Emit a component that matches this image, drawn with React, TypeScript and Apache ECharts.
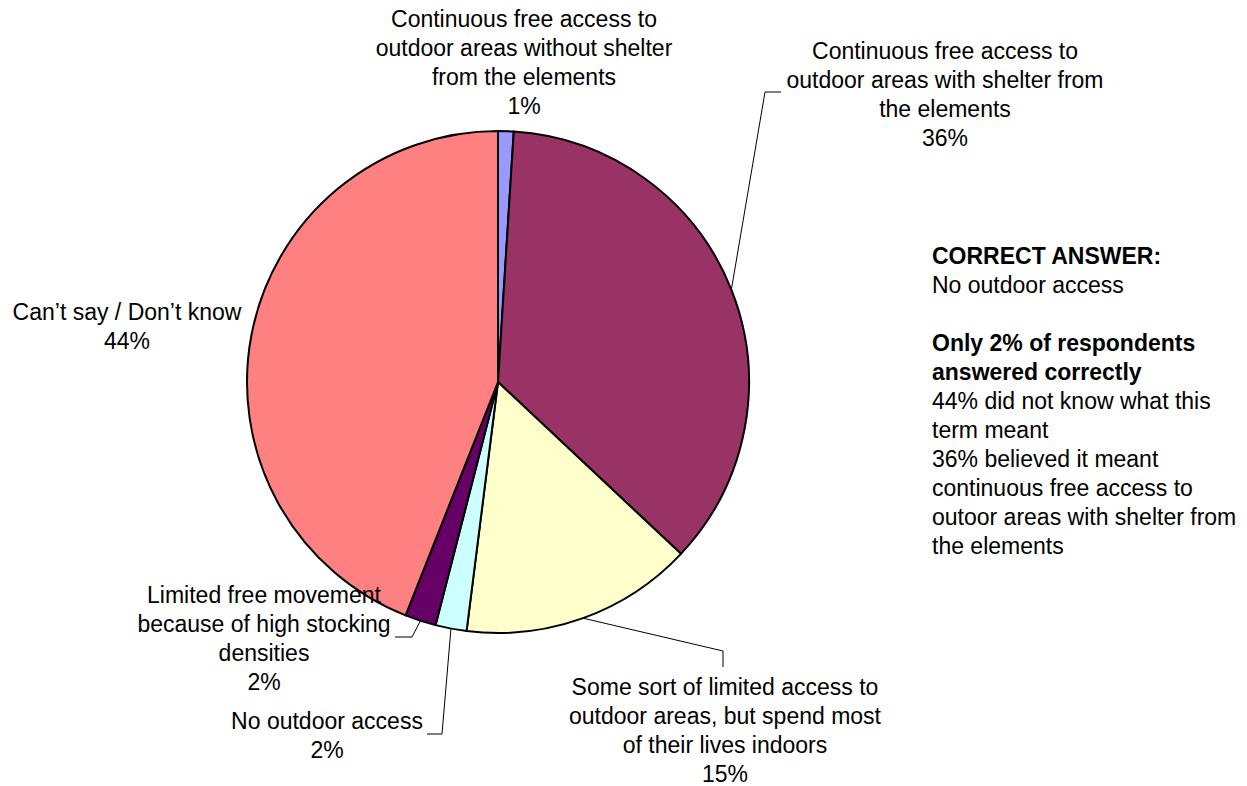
import React, { useEffect, useRef } from "react";
import * as echarts from "echarts";

const categories: string[] = [
  "Continuous free access to\noutdoor areas without shelter\nfrom the elements",
  "Continuous free access to\noutdoor areas with shelter from\nthe elements",
  "Some sort of limited access to\noutdoor areas, but spend most\nof their lives indoors",
  "No outdoor access",
  "Limited free movement\nbecause of high stocking\ndensities",
  "Can’t say / Don’t know",
];
const values: number[] = [1, 36, 15, 2, 2, 44];
const colors: string[] = ["#9999FF", "#993366", "#FFFFCC", "#CCFFFF", "#660066", "#FF8080"];
const showLeader: boolean[] = [false, true, true, true, true, false];

const noteBold1 = "CORRECT ANSWER:";
const noteText1 = "No outdoor access";
const noteBold2 = "Only 2% of respondents\nanswered correctly";
const noteText2 =
  "44% did not know what this\nterm meant\n36% believed it meant\ncontinuous free access to\noutoor areas with shelter from\nthe elements";

// label layout (positions only)
const labelPos: { x: number; y: number; line: number[][] | null }[] = [
  { x: 524, y: 4, line: null },
  { x: 945, y: 36, line: [[765, 92], [781, 92]] },
  { x: 725, y: 672, line: [[723, 651], [723, 667]] },
  { x: 327, y: 706, line: [[442, 734], [427, 734]] },
  { x: 264, y: 580, line: [[412, 637], [395, 637]] },
  { x: 127, y: 297, line: null },
];

const FONT = "'Liberation Sans', Arial, Helvetica, sans-serif";

export default function App() {
  const ref = useRef<HTMLDivElement>(null);
  useEffect(() => {
    if (!ref.current) return;
    const chart = echarts.init(ref.current, undefined, { renderer: "svg" });
    const textStyle = { fontSize: 23, lineHeight: 29, fontFamily: FONT, fill: "#000" };
    chart.setOption({
      animation: false,
      backgroundColor: "#ffffff",
      series: [
        {
          type: "pie",
          center: [498, 382],
          radius: 251,
          startAngle: 90,
          clockwise: true,
          avoidLabelOverlap: false,
          emphasis: { disabled: true },
          itemStyle: { borderColor: "#000", borderWidth: 2 },
          label: {
            show: true,
            position: "outside",
            formatter: (p: any) => `${p.name}\n${p.value}%`,
            fontSize: 23,
            lineHeight: 29,
            color: "#000",
            fontFamily: FONT,
          },
          labelLine: { show: true, length: 10, length2: 10, lineStyle: { color: "#000", width: 1 } },
          labelLayout: (params: any) => {
            const p = labelPos[params.dataIndex];
            const res: any = { x: p.x, y: p.y, align: "center", verticalAlign: "top" };
            if (p.line && params.labelLinePoints) {
              res.labelLinePoints = [params.labelLinePoints[0], ...p.line];
            }
            return res;
          },
          data: categories.map((name, i) => ({
            name,
            value: values[i],
            itemStyle: { color: colors[i] },
            labelLine: { show: showLeader[i] },
          })),
        },
      ],
      graphic: [
        { type: "text", left: 932, top: 241, style: { ...textStyle, text: noteBold1, fontWeight: "bold" } },
        { type: "text", left: 932, top: 270, style: { ...textStyle, text: noteText1 } },
        { type: "text", left: 932, top: 328, style: { ...textStyle, text: noteBold2, fontWeight: "bold" } },
        { type: "text", left: 932, top: 386, style: { ...textStyle, text: noteText2 } },
      ],
    });
    return () => chart.dispose();
  }, []);
  return (
    <div
      ref={ref}
      style={{ position: "absolute", left: 0, top: 0, width: 1247, height: 786, background: "#fff" }}
    />
  );
}
